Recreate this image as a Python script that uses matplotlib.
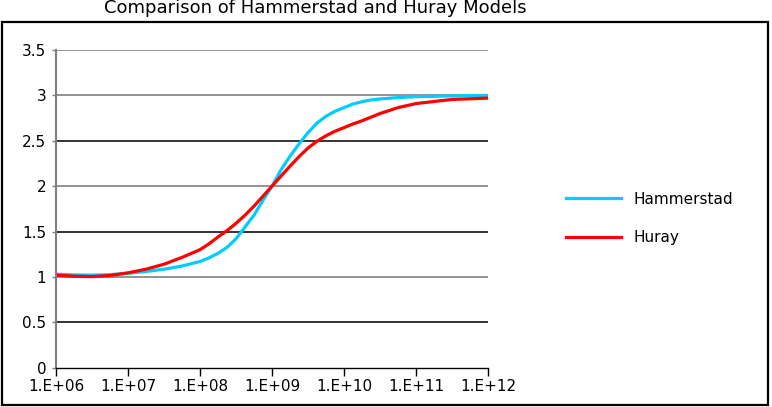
import numpy as np
import matplotlib
matplotlib.use("Agg")
import matplotlib.pyplot as plt
from matplotlib.patches import Rectangle

# log10 of frequency; denser readings where the curves bend most
log_freq = [6.0, 6.25, 6.5, 6.75, 7.0, 7.25, 7.5, 7.75, 8.0, 8.125, 8.25, 8.375,
            8.5, 8.625, 8.75, 8.875, 9.0, 9.125, 9.25, 9.375, 9.5, 9.625, 9.75,
            9.875, 10.0, 10.125, 10.25, 10.375, 10.5, 10.75, 11.0, 11.5, 12.0]
hammerstad = [1.03, 1.022, 1.02, 1.025, 1.04, 1.06, 1.085, 1.12, 1.17, 1.21, 1.26, 1.325,
              1.42, 1.55, 1.68, 1.845, 2.0, 2.18, 2.33, 2.465, 2.59, 2.695, 2.77,
              2.825, 2.865, 2.905, 2.93, 2.95, 2.96, 2.976, 2.986, 2.994, 3.0]
huray = [1.02, 1.008, 1.003, 1.016, 1.045, 1.085, 1.14, 1.215, 1.30, 1.365, 1.44, 1.51,
         1.59, 1.68, 1.78, 1.89, 2.0, 2.11, 2.22, 2.325, 2.42, 2.495, 2.555,
         2.605, 2.645, 2.685, 2.72, 2.76, 2.80, 2.865, 2.91, 2.955, 2.97]
x_ticks = [6, 7, 8, 9, 10, 11, 12]
x_labels = ["1.E+%02d" % p for p in x_ticks]
y_ticks = [0, 0.5, 1, 1.5, 2, 2.5, 3, 3.5]
y_labels = ["0", "0.5", "1", "1.5", "2", "2.5", "3", "3.5"]

freq = 10.0 ** np.array(log_freq)

fig = plt.figure(figsize=(7.72, 4.07), dpi=100)
ax = fig.add_axes([56 / 772, 1 - 367.7 / 407, (488 - 56) / 772, (367.7 - 50) / 407])

ax.plot(freq, hammerstad, color="#00CCFF", lw=2.3, label="Hammerstad", solid_joinstyle="round")
ax.plot(freq, huray, color="#FF0000", lw=2.3, label="Huray", solid_joinstyle="round")

ax.set_xscale("log")
ax.set_xlim(1e6, 1e12)
ax.set_ylim(0, 3.5)
ax.set_xticks([10.0 ** p for p in x_ticks])
ax.set_xticklabels(x_labels)
ax.xaxis.set_minor_locator(matplotlib.ticker.NullLocator())
ax.set_yticks(y_ticks)
ax.set_yticklabels(y_labels)

# horizontal grid, integers grey and halves black as in the picture
for v in y_ticks[1:]:
    col = "#7f7f7f" if float(v).is_integer() or v == 3.5 else "#111111"
    ax.axhline(v, color=col, lw=1.2, zorder=0)

for s in ["top", "right"]:
    ax.spines[s].set_visible(False)
ax.spines["left"].set_color("#7f7f7f")
ax.spines["left"].set_linewidth(1.5)
ax.spines["bottom"].set_color("black")
ax.spines["bottom"].set_linewidth(1.0)
ax.spines["bottom"].set_zorder(5)

ax.tick_params(axis="x", direction="out", length=6, width=1, color="black",
               labelsize=11, pad=2)
ax.tick_params(axis="y", direction="out", length=3, width=1, color="#7f7f7f",
               labelsize=11, pad=4)

ax.legend(loc="center left", bbox_to_anchor=(566 / 772, 1 - 218.5 / 407),
          bbox_transform=fig.transFigure, frameon=False, fontsize=11,
          handlelength=3.6, handletextpad=0.85, labelspacing=1.55,
          borderpad=0, borderaxespad=0)

fig.text(315 / 772, 1 - 8 / 407, "Comparison of Hammerstad and Huray Models",
         ha="center", va="center", fontsize=13)

fig.patches.append(Rectangle((2 / 772, 2 / 407), 766 / 772, 383 / 407,
                             transform=fig.transFigure, fill=False,
                             edgecolor="black", lw=1.6))

fig.savefig("out.png", dpi=100)
